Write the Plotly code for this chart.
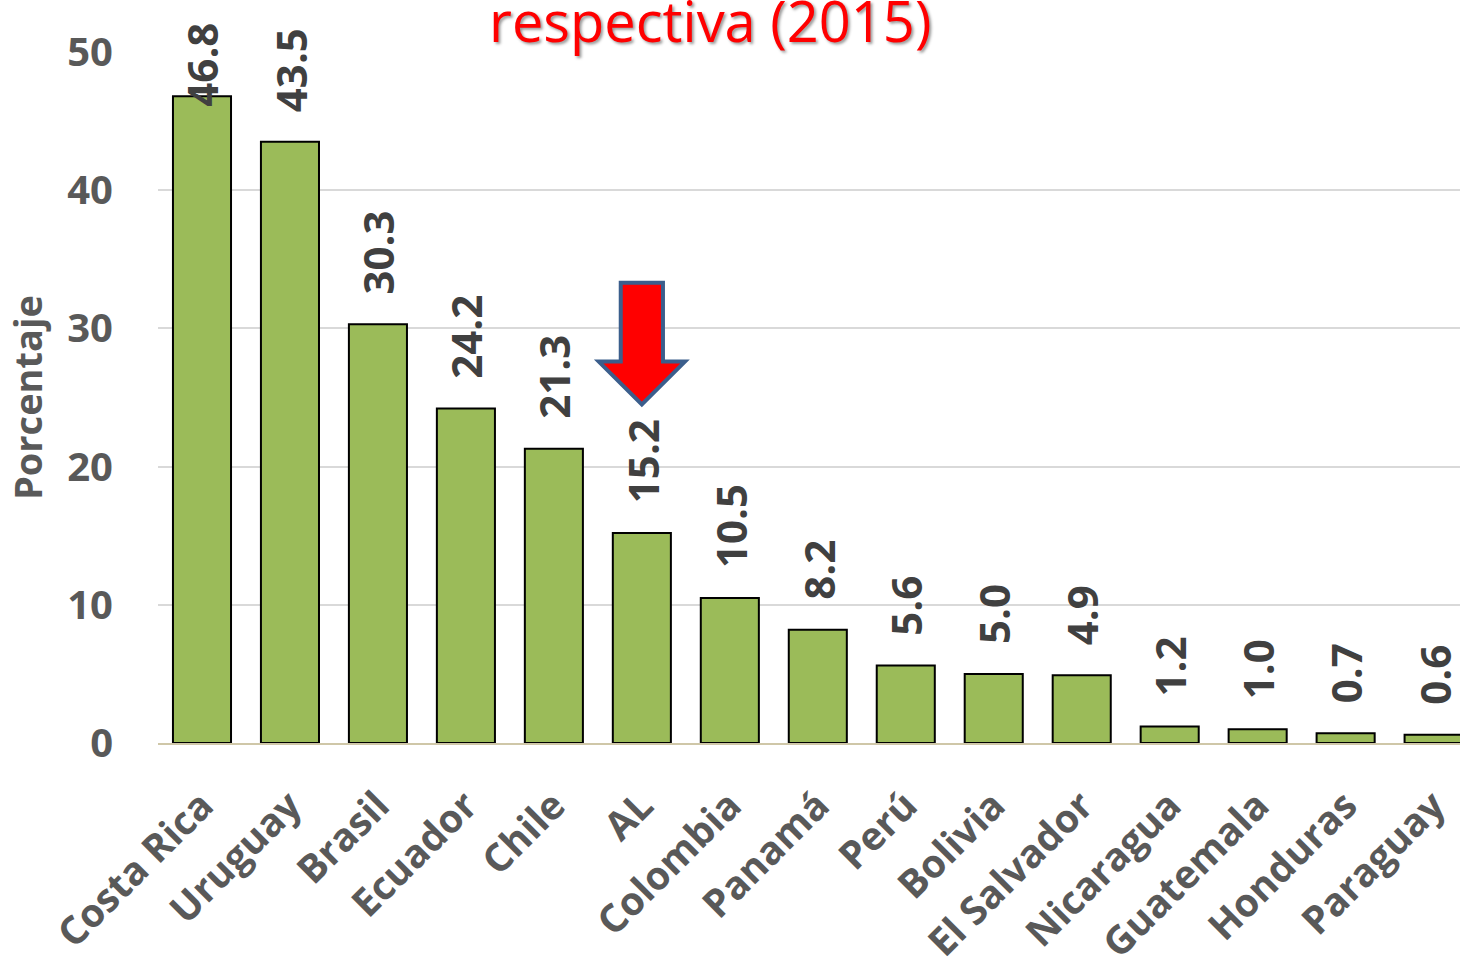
import plotly.graph_objects as go

paises = ['Costa Rica', 'Uruguay', 'Brasil', 'Ecuador', 'Chile', 'AL', 'Colombia', 'Panamá',
          'Perú', 'Bolivia', 'El Salvador', 'Nicaragua', 'Guatemala', 'Honduras', 'Paraguay']
porcentaje = [46.8, 43.5, 30.3, 24.2, 21.3, 15.2, 10.5, 8.2, 5.6, 5.0, 4.9, 1.2, 1.0, 0.7, 0.6]
y_ticks = [0, 10, 20, 30, 40, 50]

gris = '#595959'
fig = go.Figure()
fig.add_trace(go.Bar(
    x=paises, y=porcentaje, width=0.66,
    marker=dict(color='#9BBB59', line=dict(color='black', width=2)),
    hoverinfo='x+y',
))

# etiquetas de datos (la mas alta se baja para que quepa arriba)
for p, v in zip(paises, porcentaje):
    base = min(v + 2.0, 45.9)
    fig.add_annotation(x=p, y=base, text=f'{v:.1f}', textangle=-90, showarrow=False,
                       xanchor='center', yanchor='bottom',
                       font=dict(family='Open Sans', size=42, color='#404040', weight='bold'))

# flecha sobre AL
i = paises.index('AL')
tip = porcentaje[i] + 9.3
path = (f'M {i-0.24},33.3 L {i+0.24},33.3 L {i+0.24},27.6 L {i+0.49},27.6 '
        f'L {i},{tip} L {i-0.49},27.6 L {i-0.24},27.6 Z')
fig.add_shape(type='path', path=path, xref='x', yref='y',
              fillcolor='#FF0000', line=dict(color='#3B5E8C', width=4))

fig.add_annotation(text='respectiva (2015)', xref='paper', yref='paper', x=0.424, y=1.0,
                   xanchor='center', yanchor='bottom', yshift=-8, showarrow=False,
                   font=dict(family='Open Sans', size=56, color='#FF0000',
                             shadow='2px 2px 3px #999999'))

fig.update_layout(
    width=1460, height=958,
    margin=dict(l=158, r=0, t=52, b=215),
    plot_bgcolor='white', paper_bgcolor='white',
    showlegend=False,
    font=dict(family='Open Sans', color=gris),
)
fig.update_xaxes(
    range=[-0.5, 14.3], tickangle=-45, automargin=False, ticklabelstandoff=22,
    tickfont=dict(family='Open Sans', size=39, color=gris, weight='bold'),
    showline=True, linecolor='#CFC7A8', linewidth=2, ticks='', showgrid=False,
)
fig.update_yaxes(
    range=[0, 50], tickvals=y_ticks, showgrid=True, gridcolor='#D9D9D9', gridwidth=2,
    zeroline=False, ticks='', ticklabelstandoff=44, automargin=False,
    tickfont=dict(family='Open Sans', size=40, color=gris, weight='bold'),
    title=dict(text='Porcentaje', font=dict(family='Open Sans', size=38, color=gris, weight='bold'),
               standoff=12),
)

fig.write_html('out.html', config={'displayModeBar': False},
               post_script="document.body.style.margin='0';")
